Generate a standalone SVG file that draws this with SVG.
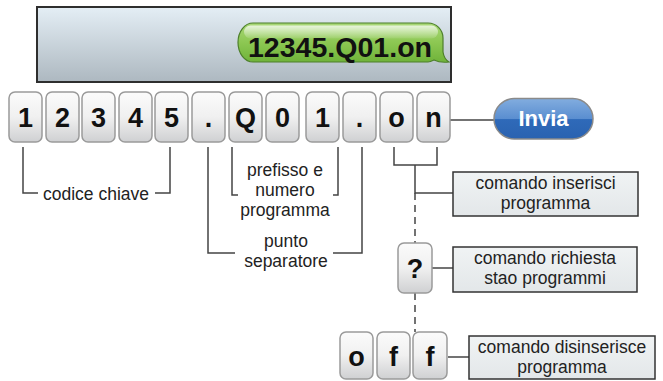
<svg xmlns="http://www.w3.org/2000/svg" width="663" height="381" viewBox="0 0 663 381">
<defs>
<linearGradient id="scr" x1="0" y1="0" x2="0" y2="1"><stop offset="0" stop-color="#e4eef5"/><stop offset="1" stop-color="#adb8c0"/></linearGradient>
<linearGradient id="key" x1="0" y1="0" x2="0" y2="1"><stop offset="0" stop-color="#fbfbfb"/><stop offset="0.5" stop-color="#f0f0f0"/><stop offset="1" stop-color="#cfd0d2"/></linearGradient>
<linearGradient id="grn" x1="0" y1="0" x2="0" y2="1"><stop offset="0" stop-color="#a9d877"/><stop offset="0.5" stop-color="#8cc752"/><stop offset="1" stop-color="#6fb33a"/></linearGradient>
<linearGradient id="gl" x1="0" y1="0" x2="0" y2="1"><stop offset="0" stop-color="#ffffff" stop-opacity="0.75"/><stop offset="1" stop-color="#ffffff" stop-opacity="0.1"/></linearGradient>
<linearGradient id="blu" x1="0" y1="0" x2="0" y2="1"><stop offset="0" stop-color="#82addf"/><stop offset="0.5" stop-color="#5a8ed0"/><stop offset="0.52" stop-color="#2f6ab9"/><stop offset="1" stop-color="#2a62b0"/></linearGradient>
<linearGradient id="box" x1="0" y1="0" x2="0" y2="1"><stop offset="0" stop-color="#f0f3f4"/><stop offset="1" stop-color="#e3e7e9"/></linearGradient>
</defs>
<style>
.k rect{fill:url(#key);stroke:#9a9a9a;stroke-width:1.5}
.k text{font-family:"Liberation Sans",Arial,sans-serif;font-weight:bold;font-size:27px;fill:#111;text-anchor:middle}
.lbl{font-family:"Liberation Sans",Arial,sans-serif;font-size:17.5px;fill:#222;text-anchor:middle}
.bx{fill:url(#box);stroke:#333;stroke-width:1.5}
#connectors path{fill:none;stroke:#444;stroke-width:1.5}
#connectors .d{stroke-dasharray:7 5}
</style>
<g id="connectors">
<path d="M450 120H494"/>
<path d="M23 147V193H38M155 193H170V147"/>
<path d="M232 147V195H238M333 195H338V147"/>
<path d="M208 147V253H235M333 253H362V147"/>
<path d="M394 147V165H437V147M415 165V193H453"/>
<path class="d" d="M415 193V243M415 293V332"/>
<path d="M432 268H453"/>
<path d="M448 357H469"/>
</g>
<g id="screen">
<rect x="37" y="7" width="414" height="75" fill="url(#scr)" stroke="#2e2e2e" stroke-width="2"/>
<path d="M253 23H428A15 15 0 0 1 443 38V52Q444 59 449 62Q440 63 434 60Q430 62 428 62H253A15 19.5 0 0 1 238 42.5A15 19.5 0 0 1 253 23Z" fill="url(#grn)" stroke="#4d7f2b" stroke-width="1.2"/>
<rect x="244" y="25.5" width="194" height="13" rx="6.5" fill="url(#gl)"/>
<text x="340" y="57" font-family="'Liberation Sans',Arial,sans-serif" font-weight="bold" font-size="28" fill="#111" text-anchor="middle" textLength="184" lengthAdjust="spacingAndGlyphs">12345.Q01.on</text>
</g>
<g id="key-1" class="k"><rect x="9" y="92" width="33" height="50" rx="6"/><text x="25.5" y="127">1</text></g>
<g id="key-2" class="k"><rect x="46" y="92" width="33" height="50" rx="6"/><text x="62.5" y="127">2</text></g>
<g id="key-3" class="k"><rect x="82" y="92" width="33" height="50" rx="6"/><text x="98.5" y="127">3</text></g>
<g id="key-4" class="k"><rect x="119" y="92" width="33" height="50" rx="6"/><text x="135.5" y="127">4</text></g>
<g id="key-5" class="k"><rect x="155" y="92" width="33" height="50" rx="6"/><text x="171.5" y="127">5</text></g>
<g id="key-dot1" class="k"><rect x="192" y="92" width="33" height="50" rx="6"/><text x="208.5" y="127">.</text></g>
<g id="key-Q" class="k"><rect x="229" y="92" width="33" height="50" rx="6"/><text x="245.5" y="127">Q</text></g>
<g id="key-0" class="k"><rect x="266" y="92" width="33" height="50" rx="6"/><text x="282.5" y="127">0</text></g>
<g id="key-1b" class="k"><rect x="306" y="92" width="33" height="50" rx="6"/><text x="322.5" y="127">1</text></g>
<g id="key-dot2" class="k"><rect x="343" y="92" width="33" height="50" rx="6"/><text x="359.5" y="127">.</text></g>
<g id="key-o" class="k"><rect x="380" y="92" width="33" height="50" rx="6"/><text x="396.5" y="127">o</text></g>
<g id="key-n" class="k"><rect x="417" y="92" width="33" height="50" rx="6"/><text x="433.5" y="127">n</text></g>
<g id="invia">
<rect x="494" y="98.5" width="99" height="40.5" rx="20.25" fill="url(#blu)" stroke="#8a8a8a" stroke-width="1.5"/>
<text x="543.5" y="126" font-family="'Liberation Sans',Arial,sans-serif" font-weight="bold" font-size="22" fill="#fff" text-anchor="middle">Invia</text>
</g>
<g id="lbl-codice"><text class="lbl" x="96" y="200">codice chiave</text></g>
<g id="lbl-prefisso"><text class="lbl" x="285" y="176">prefisso e</text><text class="lbl" x="285" y="196">numero</text><text class="lbl" x="285" y="216">programma</text></g>
<g id="lbl-punto"><text class="lbl" x="286" y="247">punto</text><text class="lbl" x="286" y="267">separatore</text></g>
<g id="box-inserisci"><rect class="bx" x="453" y="172" width="185" height="44"/><text class="lbl" x="545.5" y="188.5">comando inserisci</text><text class="lbl" x="545.5" y="208.5">programma</text></g>
<g id="key-q" class="k"><rect x="398" y="243" width="34" height="50" rx="6"/><text x="415" y="278">?</text></g>
<g id="box-richiesta"><rect class="bx" x="453" y="247" width="184" height="45"/><text class="lbl" x="545" y="264">comando richiesta</text><text class="lbl" x="545" y="284">stao programmi</text></g>
<g id="key-off-o" class="k"><rect x="340" y="332" width="33" height="47" rx="6"/><text x="356.5" y="366">o</text></g>
<g id="key-off-f1" class="k"><rect x="377" y="332" width="33" height="47" rx="6"/><text x="393.5" y="366">f</text></g>
<g id="key-off-f2" class="k"><rect x="413" y="332" width="34" height="47" rx="6"/><text x="430" y="366">f</text></g>
<g id="box-disinserisce"><rect class="bx" x="469" y="336" width="186" height="43"/><text class="lbl" x="562" y="352.5">comando disinserisce</text><text class="lbl" x="562" y="372.5">programma</text></g>
</svg>
